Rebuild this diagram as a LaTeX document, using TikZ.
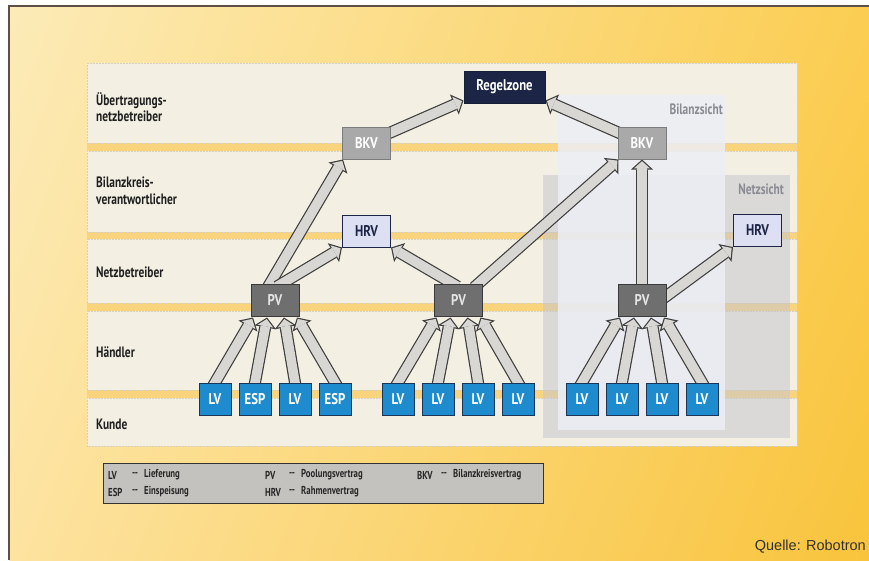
\documentclass[tikz,border=0pt]{standalone}
\usepackage{fontspec}
\setmainfont{PT Sans}[FakeStretch=0.82]
\newfontfamily\condfont{PT Sans}[FakeStretch=0.76]
\newfontfamily\quellefont{Liberation Sans}
\usetikzlibrary{arrows.meta,calc,shadings}

\definecolor{bgpale}{HTML}{FCEBB8}
\definecolor{bgmid}{HTML}{FDE3A0}
\definecolor{bgdeep}{HTML}{FBCD52}
\definecolor{bgdeepest}{HTML}{F9C43C}
\definecolor{stripyellow}{HTML}{F9D47C}
\definecolor{framebrown}{HTML}{5E4E44}
\definecolor{lanecream}{HTML}{F3F0E3}
\definecolor{laneedge}{HTML}{D6D0BD}
\definecolor{netzgray}{HTML}{C4C5CF}
\definecolor{bilanzwhite}{HTML}{EDEEF4}
\definecolor{viewgray}{HTML}{8A8A92}
\definecolor{leafblue}{HTML}{1E8BCE}
\definecolor{leafrim}{HTML}{1B3558}
\definecolor{poolgray}{HTML}{6F6F6F}
\definecolor{poolrim}{HTML}{3A3A3A}
\definecolor{bkvgray}{HTML}{A9A9A9}
\definecolor{bkvrim}{HTML}{7C7C7C}
\definecolor{hrvlav}{HTML}{DDE0F3}
\definecolor{navy}{HTML}{1C2545}
\definecolor{arrowrim}{HTML}{3E3E3E}
\definecolor{arrowbody}{HTML}{D9D7D3}
\definecolor{legendgray}{HTML}{C3C2BE}

\pgfdeclarelayer{lanes}
\pgfdeclarelayer{links}
\pgfsetlayers{lanes,links,main}

\tikzset{
  lane/.style={fill=lanecream, draw=laneedge, line width=0.5pt, densely dotted},
  box/.style={minimum width=48pt, minimum height=32pt, inner sep=0pt, line width=1pt,
    font=\fontsize{15.5}{15.5}\selectfont\bfseries},
  leaf/.style={box, minimum width=32pt, fill=leafblue, draw=leafrim, text=white},
  pool/.style={box, fill=poolgray, draw=poolrim, text=white!90!black},
  bkv/.style={box, fill=bkvgray, draw=bkvrim, text=white},
  hrv/.style={box, fill=hrvlav, draw=navy, text=navy},
  zone/.style={box, minimum width=81pt, fill=navy, draw=navy!80!black, text=white},
  lanelabel/.style={anchor=west, align=left, inner sep=0pt,
    font=\condfont\bfseries\fontsize{15}{16.5}\selectfont, text=black!88},
  viewlabel/.style={inner sep=0pt, font=\condfont\bfseries\fontsize{15}{15}\selectfont, text=viewgray},
  legtext/.style={anchor=west, inner sep=0pt, font=\condfont\bfseries\fontsize{11.5}{11.5}\selectfont,
    text=black!85},
  fatrim/.style={line width=12pt, draw=arrowrim,
    -{Triangle[length=10pt,width=22pt,line width=0pt]}},
  fatbody/.style={line width=9.6pt, draw=arrowbody, shorten >=1.62pt,
    -{Triangle[length=7.2pt,width=15.8pt,line width=0pt]}},
}

% hollow arrow: dark rim, light body, start hidden under the box
\newcommand{\fatarrow}[2]{%
  \draw[fatrim] ($#1!-6pt!#2$) -- #2;
  \draw[fatbody] ($#1!-6pt!#2$) -- #2;}

\begin{document}
\begin{tikzpicture}[x=1pt,y=-1pt]
  \useasboundingbox (0,0) rectangle (869,560);

  \begin{pgfonlayer}{lanes}
    % background and frame
    \fill[white] (0,0) rectangle (869,560);
    \shade[upper left=bgpale, lower left=bgmid, upper right=bgdeep, lower right=bgdeepest]
      (9,6) rectangle (869,560);
    \draw[framebrown, line width=2pt] (869,6) -- (9,6) -- (9,560);
    % strips and lanes
    \fill[stripyellow] (87,143) rectangle (797,398);
    \foreach \top/\bot in {63/143, 151/232, 239/303, 311/390, 398/446}
      \draw[lane] (87,\top) rectangle (797,\bot);
    % views
    \fill[netzgray, fill opacity=0.52] (543,175) rectangle (790,438);
    \fill[bilanzwhite, fill opacity=0.86] (558,95) rectangle (725,430);
  \end{pgfonlayer}

  % lane labels
  \node[lanelabel] (ueb) at (96,107) {Übertragungs-\\netzbetreiber};
  \node[lanelabel] (bil) at (96,191) {Bilanzkreis-\\verantwortlicher};
  \node[lanelabel] (netz) at (96,272) {Netzbetreiber};
  \node[lanelabel] (hand) at (96,352) {Händler};
  \node[lanelabel] (kunde) at (96,424) {Kunde};

  \node[viewlabel, anchor=east] (bilview) at (723,109) {Bilanzsicht};
  \node[viewlabel, anchor=east] (netzview) at (784,189) {Netzsicht};

  % contract boxes
  \node[zone] (regel) at (504.5,87) {Regelzone};
  \node[bkv] (bkvl) at (366.5,143) {BKV};
  \node[bkv] (bkvr) at (642,143) {BKV};
  \node[hrv] (hrvl) at (366.5,231) {HRV};
  \node[hrv] (hrvr) at (757.5,230.5) {HRV};
  \node[pool] (pv1) at (275,300) {PV};
  \node[pool] (pv2) at (458.5,300) {PV};
  \node[pool] (pv3) at (642,300) {PV};

  \foreach \x/\t [count=\i] in {215/LV, 255/ESP, 295/LV, 335/ESP,
      398/LV, 438/LV, 478/LV, 518/LV, 582/LV, 622/LV, 662/LV, 702/LV}
    \node[leaf] (leaf\i) at (\x,399) {\t};

  \begin{pgfonlayer}{links}
    \foreach \i/\p/\dx in {1/pv1/-22, 2/pv1/-8, 3/pv1/9, 4/pv1/22,
        5/pv2/-22, 6/pv2/-8, 7/pv2/9, 8/pv2/22,
        9/pv3/-22, 10/pv3/-8, 11/pv3/9, 12/pv3/22} {
      \fatarrow{(leaf\i.north)}{([xshift=\dx pt,yshift=-1pt]\p.south)}
    }
    \fatarrow{([xshift=-5pt]pv1.north)}{([xshift=1pt]bkvl.south west)}
    \fatarrow{([xshift=7pt]pv1.north)}{(hrvl.south west)}
    \fatarrow{([xshift=-6pt]pv2.north)}{(hrvl.south east)}
    \fatarrow{([xshift=20pt]pv2.north)}{([xshift=1pt]bkvr.south west)}
    \fatarrow{(pv3.north)}{(bkvr.south)}
    \fatarrow{([yshift=4pt]pv3.east)}{(hrvr.south west)}
    \fatarrow{(bkvl.center)}{([yshift=3pt]regel.south west)}
    \fatarrow{(bkvr.center)}{([yshift=3pt]regel.south east)}
  \end{pgfonlayer}

  % legend
  \node[draw=black!80, fill=legendgray, line width=1pt, minimum width=440pt,
    minimum height=40pt, inner sep=0pt] (legend) at (323,483) {};
  \foreach \x/\y/\ab/\txt in {108/475/LV/Lieferung, 108/492/ESP/Einspeisung,
      265/475/PV/Poolungsvertrag, 265/492/HRV/Rahmenvertrag,
      417/475/BKV/Bilanzkreisvertrag} {
    \node[legtext] (leg-\ab) at (\x,\y) {\ab};
    \node[legtext] (dash-\ab) at (\x+24,\y) {--};
    \node[legtext] (txt-\ab) at (\x+36,\y) {\txt};
  }

  \node[anchor=east, inner sep=0pt, text=black!80,
    font=\quellefont\fontsize{14.5}{14.5}\selectfont] (quelle) at (866,547) {Quelle: Robotron};
\end{tikzpicture}
\end{document}
